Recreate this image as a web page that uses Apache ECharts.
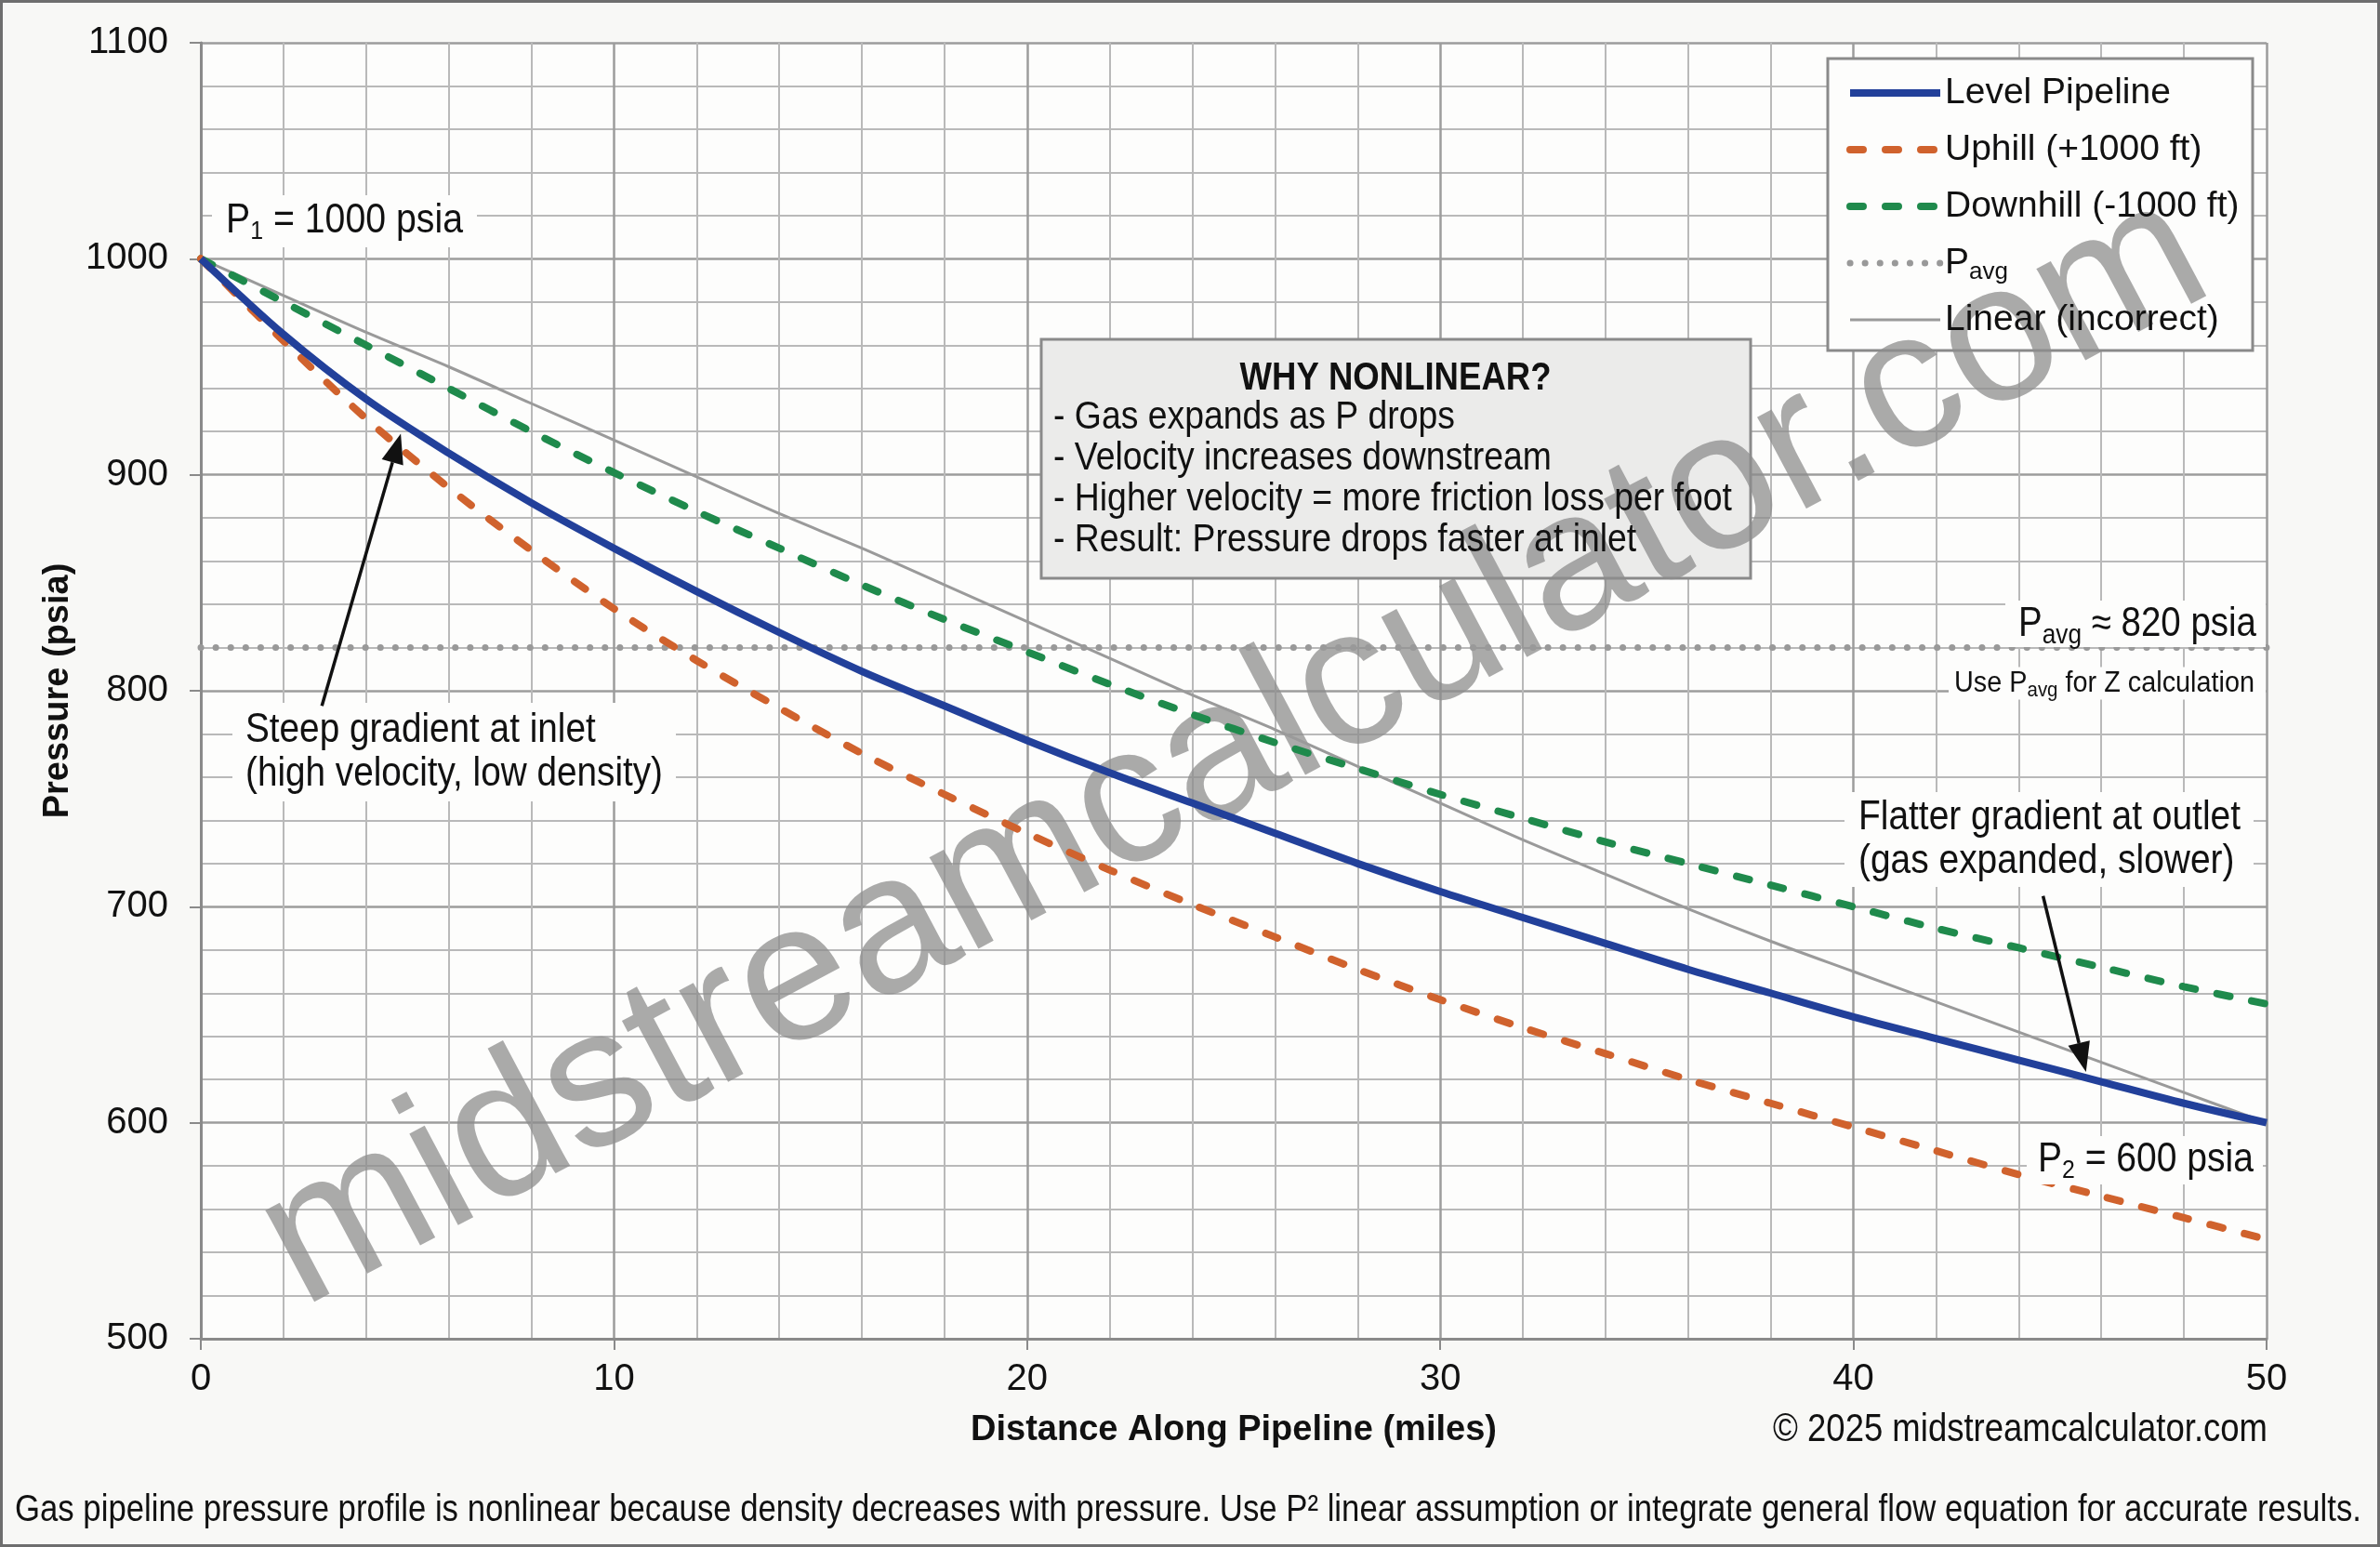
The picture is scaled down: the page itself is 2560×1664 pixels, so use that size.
<!DOCTYPE html>
<html><head><meta charset="utf-8">
<script src="https://cdn.jsdelivr.net/npm/echarts@6/dist/echarts.min.js"></script>
<style>html,body{margin:0;padding:0;background:#f8f8f6;}#c{width:2560px;height:1664px;}</style>
</head><body><div id="c"></div>
<script>
// ---- data ----
const distanceMiles   = [0,2,4,6,8,10,12,14,16,18,20,22,24,26,28,30,32,34,36,38,40,42,44,46,48,50];
const levelPipeline   = [1000,965,935,910,887,866,846,827,809,793,777,762,748,734,720,707,695,683,671,660,649,639,629,619,609,600];
const uphill          = [1000,962,926,894,865,838,814,792,771,752,734,717,701,686,671,657,644,632,620,609,598,587,576,566,556,546];
const downhill        = [1000,980,960,940,920,901,883,866,849,833,818,803,789,776,764,752,741,730,720,710,700,690,681,672,663,655];
const linearIncorrect = [1000,983,966,950,933,916,899,882,866,849,832,815,798,782,765,748,731,715,699,684,670,656,642,628,614,600];
const pAvgX = [0, 50];
const pAvgP = [820, 820];

const FF = "'Liberation Sans',Arial,sans-serif";
const pairs = (xs, ys) => xs.map((x, i) => [x, ys[i]]);
const DASH = [14, 24];

const chart = echarts.init(document.getElementById('c'));
const axisCommon = {
  axisLine: {show: true, onZero: false, lineStyle: {color: '#8a8a8a', width: 3}},
  axisTick: {show: true, length: 12, lineStyle: {color: '#8a8a8a', width: 2}},
  splitLine: {show: true, lineStyle: {color: '#9c9c9c', width: 2.5}},
  minorTick: {show: false, splitNumber: 5},
  minorSplitLine: {show: true, lineStyle: {color: '#b9b9b9', width: 2}},
  nameTextStyle: {fontFamily: FF, fontSize: 38, fontWeight: 'bold', color: '#111'}
};
chart.setOption({
  backgroundColor: '#f8f8f6',
  animation: false,
  textStyle: {fontFamily: FF},
  grid: {left: 216, right: 122, top: 46, bottom: 224, show: true, backgroundColor: '#fdfdfc', borderWidth: 0},
  xAxis: Object.assign({
    type: 'value', min: 0, max: 50, interval: 10,
    name: 'Distance Along Pipeline (miles)', nameLocation: 'middle', nameGap: 80,
    axisLabel: {fontSize: 40, color: '#111', margin: 24, fontFamily: FF, formatter: v => String(v)}
  }, axisCommon),
  yAxis: Object.assign({
    type: 'value', min: 500, max: 1100, interval: 100,
    name: 'Pressure (psia)', nameLocation: 'middle', nameGap: 122, nameRotate: 90,
    axisLabel: {fontSize: 40, color: '#111', margin: 35, fontFamily: FF, formatter: v => String(v)}
  }, axisCommon),
  legend: {
    orient: 'vertical', left: 1986, top: 76, padding: 0,
    itemWidth: 97, itemHeight: 4, itemGap: 13, z: 6,
    data: [
      {name: 'Level Pipeline'},
      {name: 'Uphill (+1000 ft)', lineStyle: {type: DASH, cap: 'round'}},
      {name: 'Downhill (-1000 ft)', lineStyle: {type: DASH, cap: 'round'}},
      {name: 'Pavg', lineStyle: {type: [0.1, 16], cap: 'round'}},
      {name: 'Linear (incorrect)'}
    ],
    itemStyle: {opacity: 0},
    lineStyle: {width: 'inherit'},
    formatter: n => n === 'Pavg' ? '{p|P}{s|avg}' : n,
    textStyle: {
      fontFamily: FF, fontSize: 39, color: '#111', lineHeight: 48,
      rich: {
        p: {fontFamily: FF, fontSize: 39, lineHeight: 48, color: '#111'},
        s: {fontFamily: FF, fontSize: 26, lineHeight: 26, padding: [20, 0, 0, 0], color: '#111'}
      }
    }
  },
  series: [
    {name: 'Linear (incorrect)', type: 'line', data: pairs(distanceMiles, linearIncorrect), symbol: 'none', smooth: 0.3, silent: true, z: 6,
     lineStyle: {color: '#9a9a9a', width: 3}, itemStyle: {color: '#9a9a9a'}},
    {name: 'Pavg', type: 'line', data: pairs(pAvgX, pAvgP), symbol: 'none', silent: true, z: 6,
     lineStyle: {color: '#999999', width: 7, type: [0.1, 16], cap: 'round'}, itemStyle: {color: '#999999'}},
    {name: 'Downhill (-1000 ft)', type: 'line', data: pairs(distanceMiles, downhill), symbol: 'none', smooth: 0.3, silent: true, z: 7,
     lineStyle: {color: '#1f8a4c', width: 8, type: DASH, cap: 'round'}, itemStyle: {color: '#1f8a4c'}},
    {name: 'Uphill (+1000 ft)', type: 'line', data: pairs(distanceMiles, uphill), symbol: 'none', smooth: 0.3, silent: true, z: 8,
     lineStyle: {color: '#d0622d', width: 8, type: DASH, cap: 'round'}, itemStyle: {color: '#d0622d'}},
    {name: 'Level Pipeline', type: 'line', data: pairs(distanceMiles, levelPipeline), symbol: 'none', smooth: 0.3, silent: true, z: 9,
     lineStyle: {color: '#22409a', width: 8}, itemStyle: {color: '#22409a'}}
  ]
});

// ---- annotations ----
const mctx = document.createElement('canvas').getContext('2d');
const tw = (t, f) => { mctx.font = f; return mctx.measureText(t).width; };
const px = p => chart.convertToPixel({gridIndex: 0}, p);
function arrow(tail, tip) {
  const a = px(tail), b = px(tip);
  const dx = b[0] - a[0], dy = b[1] - a[1], L = Math.hypot(dx, dy);
  const ux = dx / L, uy = dy / L, hl = 32, hw = 12;
  const bx = b[0] - ux * hl, by = b[1] - uy * hl;
  return [
    {type: 'line', z: 12, silent: true, shape: {x1: a[0], y1: a[1], x2: bx, y2: by}, style: {stroke: '#111', lineWidth: 3.5}},
    {type: 'polygon', z: 12, silent: true, shape: {points: [[b[0], b[1]], [bx - uy * hw, by + ux * hw], [bx + uy * hw, by - ux * hw]]}, style: {fill: '#111'}}
  ];
}
const BG = '#fdfdfc';
function subLabel(x, y, parts, size, sub, subPad, align, target, pad) {
  const mf = size + 'px ' + FF, sf = sub + 'px ' + FF;
  let w = 0, txt = '';
  parts.forEach(([t, s]) => { w += tw(t, s ? sf : mf); txt += '{' + (s ? 's' : 'p') + '|' + t + '}'; });
  const k = target / w;
  return {type: 'text', z: 11, silent: true, x, y, scaleX: k, style: {
    text: txt, align, verticalAlign: 'middle', backgroundColor: BG,
    padding: [pad[0], pad[1] / k, pad[2], pad[3] / k],
    rich: {p: {fontFamily: FF, fontSize: size, lineHeight: size + 4, fill: '#111'},
           s: {fontFamily: FF, fontSize: sub, lineHeight: sub, padding: [subPad, 0, 0, 0], fill: '#111'}}
  }};
}
function plain(x, y, text, font, align, target, extra) {
  const lines = text.split('\n');
  const w = Math.max.apply(null, lines.map(l => tw(l, font)));
  const k = target / w;
  const st = Object.assign({text, font, fill: '#111', align, verticalAlign: 'middle'}, extra || {});
  if (st.padding) st.padding = [st.padding[0], st.padding[1] / k, st.padding[2], st.padding[3] / k];
  return {type: 'text', z: 11, silent: true, x, y, scaleX: k, style: st};
}
const graphics = [
  {type: 'rect', z: 0, silent: true, shape: {x: 1.5, y: 1.5, width: 2557, height: 1661}, style: {fill: 'none', stroke: '#6e6e6e', lineWidth: 3}},
  {type: 'rect', z: 3, silent: true, shape: {x: 1966, y: 63, width: 457, height: 314}, style: {fill: '#fdfdfc', stroke: '#8a8a8a', lineWidth: 3}},
  {type: 'rect', z: 3, silent: true, shape: {x: 1120, y: 365, width: 763, height: 257}, style: {fill: '#ebebea', stroke: '#8a8a8a', lineWidth: 3}},
  plain(1501, 407, 'WHY NONLINEAR?', 'bold 42px ' + FF, 'center', 335),
  plain(1133, 515, '- Gas expands as P drops\n- Velocity increases downstream\n- Higher velocity = more friction loss per foot\n- Result: Pressure drops faster at inlet', '42px ' + FF, 'left', 730, {lineHeight: 44}),
  {type: 'text', z: 5, silent: true, x: 1328, y: 808, rotation: 28 * Math.PI / 180, style: {text: 'midstreamcalculator.com', font: '211px ' + FF, fill: 'rgba(140,140,140,0.74)', align: 'center', verticalAlign: 'middle'}},
  subLabel(228, 238, [['P', 0], ['1', 1], [' = 1000 psia', 0]], 44, 28, 22, 'left', 255, [4, 15, 4, 15]),
  subLabel(2437, 671, [['P', 0], ['avg', 1], [' ≈ 820 psia', 0]], 44, 30, 24, 'right', 256, [2, 10, 0, 14]),
  subLabel(2437, 735, [['Use P', 0], ['avg', 1], [' for Z calculation', 0]], 31, 22, 16, 'right', 323, [0, 12, 0, 6]),
  plain(250, 809, 'Steep gradient at inlet\n(high velocity, low density)', '44px ' + FF, 'left', 449, {lineHeight: 47, backgroundColor: BG, padding: [6, 14, 6, 14]}),
  plain(1984, 903, 'Flatter gradient at outlet\n(gas expanded, slower)', '44px ' + FF, 'left', 411, {lineHeight: 47, backgroundColor: BG, padding: [4, 14, 4, 15]}),
  subLabel(2180, 1248, [['P', 0], ['2', 1], [' = 600 psia', 0]], 44, 28, 22, 'left', 232, [2, 10, 2, 12]),
  plain(2439, 1538, '© 2025 midstreamcalculator.com', '42px ' + FF, 'right', 532),
  plain(16, 1625, 'Gas pipeline pressure profile is nonlinear because density decreases with pressure. Use P² linear assumption or integrate general flow equation for accurate results.', '40px ' + FF, 'left', 2524)
].concat(arrow([2.93, 793], [4.84, 919]), arrow([44.59, 705], [45.63, 623.5]));
chart.setOption({graphic: graphics});
</script></body></html>
